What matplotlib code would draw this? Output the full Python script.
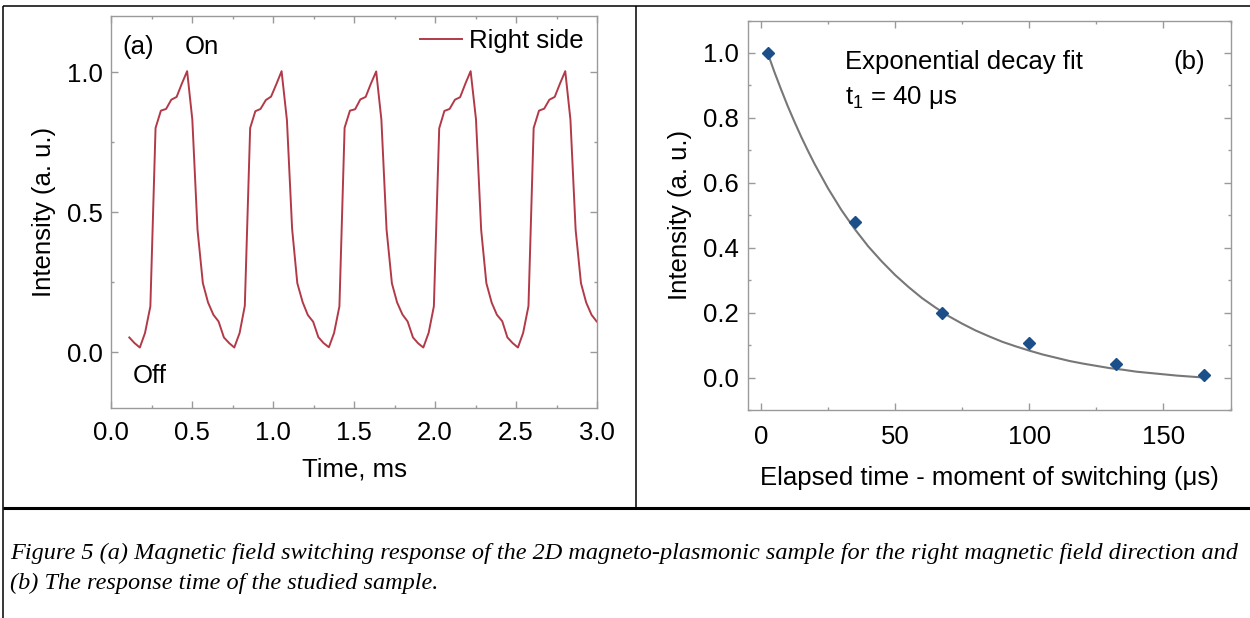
import matplotlib
matplotlib.use("Agg")
import matplotlib.pyplot as plt
from matplotlib.lines import Line2D
from matplotlib.ticker import MultipleLocator

# ------------------ DATA ------------------

# (a) switching response, right magnetic field direction
time_ms = [0.113, 0.145, 0.178, 0.210, 0.243, 0.275, 0.308, 0.340, 0.372, 0.405,
           0.437, 0.470, 0.502, 0.534, 0.567, 0.599, 0.632, 0.664, 0.697, 0.729,
           0.761, 0.794, 0.826, 0.859, 0.891, 0.923, 0.956, 0.988, 1.021, 1.053,
           1.086, 1.118, 1.150, 1.183, 1.215, 1.248, 1.280, 1.312, 1.345, 1.377,
           1.410, 1.442, 1.475, 1.507, 1.539, 1.572, 1.604, 1.637, 1.669, 1.701,
           1.734, 1.766, 1.799, 1.831, 1.864, 1.896, 1.928, 1.961, 1.993, 2.026,
           2.058, 2.090, 2.123, 2.155, 2.188, 2.220, 2.253, 2.285, 2.317, 2.350,
           2.382, 2.415, 2.447, 2.479, 2.512, 2.544, 2.577, 2.609, 2.642, 2.674,
           2.706, 2.739, 2.771, 2.804, 2.836, 2.868, 2.901, 2.933, 2.966, 2.998]
right_side = [0.052, 0.032, 0.016, 0.068, 0.163, 0.800, 0.862, 0.868, 0.901, 0.911,
              0.958, 1.003, 0.830, 0.437, 0.246, 0.177, 0.133, 0.109, 0.052, 0.032,
              0.016, 0.068, 0.165, 0.800, 0.860, 0.868, 0.900, 0.912, 0.957, 1.003,
              0.828, 0.440, 0.246, 0.178, 0.132, 0.108, 0.053, 0.032, 0.017, 0.068,
              0.163, 0.801, 0.862, 0.867, 0.902, 0.911, 0.958, 1.002, 0.830, 0.437,
              0.245, 0.177, 0.134, 0.109, 0.052, 0.031, 0.016, 0.069, 0.163, 0.799,
              0.861, 0.868, 0.901, 0.910, 0.959, 1.003, 0.831, 0.436, 0.246, 0.176,
              0.133, 0.110, 0.052, 0.032, 0.016, 0.068, 0.164, 0.800, 0.862, 0.869,
              0.901, 0.911, 0.958, 1.003, 0.830, 0.437, 0.246, 0.177, 0.133, 0.109]

# (b) decay after switching
elapsed_us = [2.5, 35.0, 67.5, 100.0, 132.5, 165.0]
decay_int = [1.000, 0.478, 0.200, 0.106, 0.042, 0.007]

# exponential decay fit curve
fit_x = [2.5, 5, 7.5, 10, 12.5, 15, 17.5, 20, 25, 30, 35, 40, 45, 50, 55, 60,
         65, 70, 75, 80, 85, 90, 95, 100, 105, 110, 115, 120, 125, 130, 135,
         140, 145, 150, 155, 160, 165]
fit_y = [1.000, 0.942, 0.888, 0.836, 0.788, 0.742, 0.699, 0.658, 0.583, 0.516,
         0.457, 0.404, 0.358, 0.316, 0.279, 0.245, 0.216, 0.189, 0.166, 0.145,
         0.127, 0.110, 0.096, 0.083, 0.071, 0.061, 0.051, 0.043, 0.036, 0.029,
         0.024, 0.018, 0.014, 0.010, 0.006, 0.003, 0.000]

caption_lines = [
    "Figure 5 (a) Magnetic field switching response of the 2D magneto-plasmonic "
    "sample for the right magnetic field direction and",
    "(b) The response time of the studied sample.",
]

# ------------------ STYLE ------------------

plt.rcParams["font.family"] = ["Liberation Sans", "DejaVu Sans"]
plt.rcParams["mathtext.fontset"] = "custom"
plt.rcParams["mathtext.rm"] = "Liberation Sans"

FS = 18.5
SPINE = "#9a9a9a"
W, H = 1250, 618

fig = plt.figure(figsize=(W / 100, H / 100), dpi=100)


def px_axes(left, top, right, bottom):
    return fig.add_axes([left / W, 1 - bottom / H, (right - left) / W, (bottom - top) / H])


def style_axes(ax):
    for s in ax.spines.values():
        s.set_color(SPINE)
        s.set_linewidth(1.0)
    ax.tick_params(which="both", direction="in", top=True, right=True,
                   colors=SPINE, labelcolor="black", labelsize=FS)
    ax.tick_params(which="major", length=5, width=1.0, pad=6)
    ax.tick_params(which="minor", length=2.5, width=1.0)


# ------------------ PANEL (a) ------------------

ax1 = px_axes(111, 16, 597, 408)
ax1.plot(time_ms, right_side, color="#b23a48", lw=1.4, label="Right side")
ax1.set_xlim(0, 3.0)
ax1.set_ylim(-0.2, 1.2)
ax1.xaxis.set_major_locator(MultipleLocator(0.5))
ax1.xaxis.set_minor_locator(MultipleLocator(0.25))
ax1.yaxis.set_major_locator(MultipleLocator(0.5))
ax1.yaxis.set_minor_locator(MultipleLocator(0.25))
ax1.xaxis.set_major_formatter(lambda v, p: f"{v:.1f}")
ax1.yaxis.set_major_formatter(lambda v, p: f"{v:.1f}")
style_axes(ax1)
ax1.tick_params(axis="x", pad=9)
ax1.set_xlabel("Time, ms", fontsize=FS, labelpad=9)
ax1.set_ylabel("Intensity (a. u.)", fontsize=FS, labelpad=8)
ax1.text(0.07, 1.09, "(a)", fontsize=FS, va="center")
ax1.text(0.455, 1.09, "On", fontsize=FS, va="center")
ax1.text(0.135, -0.085, "Off", fontsize=FS, va="center")
ax1.legend(loc="upper right", frameon=False, fontsize=FS, handlelength=1.65,
           handletextpad=0.25, borderaxespad=0.1, bbox_to_anchor=(0.998, 1.0))

# ------------------ PANEL (b) ------------------

ax2 = px_axes(747.5, 20.5, 1230.5, 410)
ax2.plot(fit_x, fit_y, color="#777777", lw=1.5, zorder=2)
ax2.plot(elapsed_us, decay_int, "D", color="#1b4f8a", ms=6.3, zorder=3)
ax2.set_xlim(-5, 175)
ax2.set_ylim(-0.1, 1.1)
ax2.xaxis.set_major_locator(MultipleLocator(50))
ax2.xaxis.set_minor_locator(MultipleLocator(25))
ax2.yaxis.set_major_locator(MultipleLocator(0.2))
ax2.yaxis.set_minor_locator(MultipleLocator(0.1))
ax2.yaxis.set_major_formatter(lambda v, p: f"{v:.1f}")
style_axes(ax2)
ax2.tick_params(axis="x", pad=11)
ax2.set_xlabel("Elapsed time - moment of switching (\u03bcs)", fontsize=FS, labelpad=12)
ax2.set_ylabel("Intensity (a. u.)", fontsize=FS, labelpad=8)
ax2.text(31.5, 0.972, "Exponential decay fit", fontsize=FS, va="center")
ax2.text(31.5, 0.862, "t$_1$ = 40 \u03bcs", fontsize=FS, va="center")
ax2.text(159.5, 0.972, "(b)", fontsize=FS, va="center", ha="center")

# ------------------ TABLE BORDERS + CAPTION ------------------


def fline(x, y, lw):
    fig.add_artist(Line2D([v / W for v in x], [1 - v / H for v in y],
                          color="black", lw=lw, solid_capstyle="butt"))


fline([3, 1250], [6, 6], 1.1)
fline([3, 3], [6, 618], 1.1)
fline([636, 636], [6, 508], 1.1)
fline([3, 1250], [508, 508], 2.2)

cap = [fig.text(10 / W, 1 - y / H, s, family="Liberation Serif", style="italic",
                fontsize=16, va="center") for s, y in zip(caption_lines, [553, 583])]
fig.canvas.draw()
w0 = cap[0].get_window_extent().width
for t in cap:
    t.set_fontsize(16 * 1227 / w0)

plt.savefig("out.png", dpi=100)
plt.close()
